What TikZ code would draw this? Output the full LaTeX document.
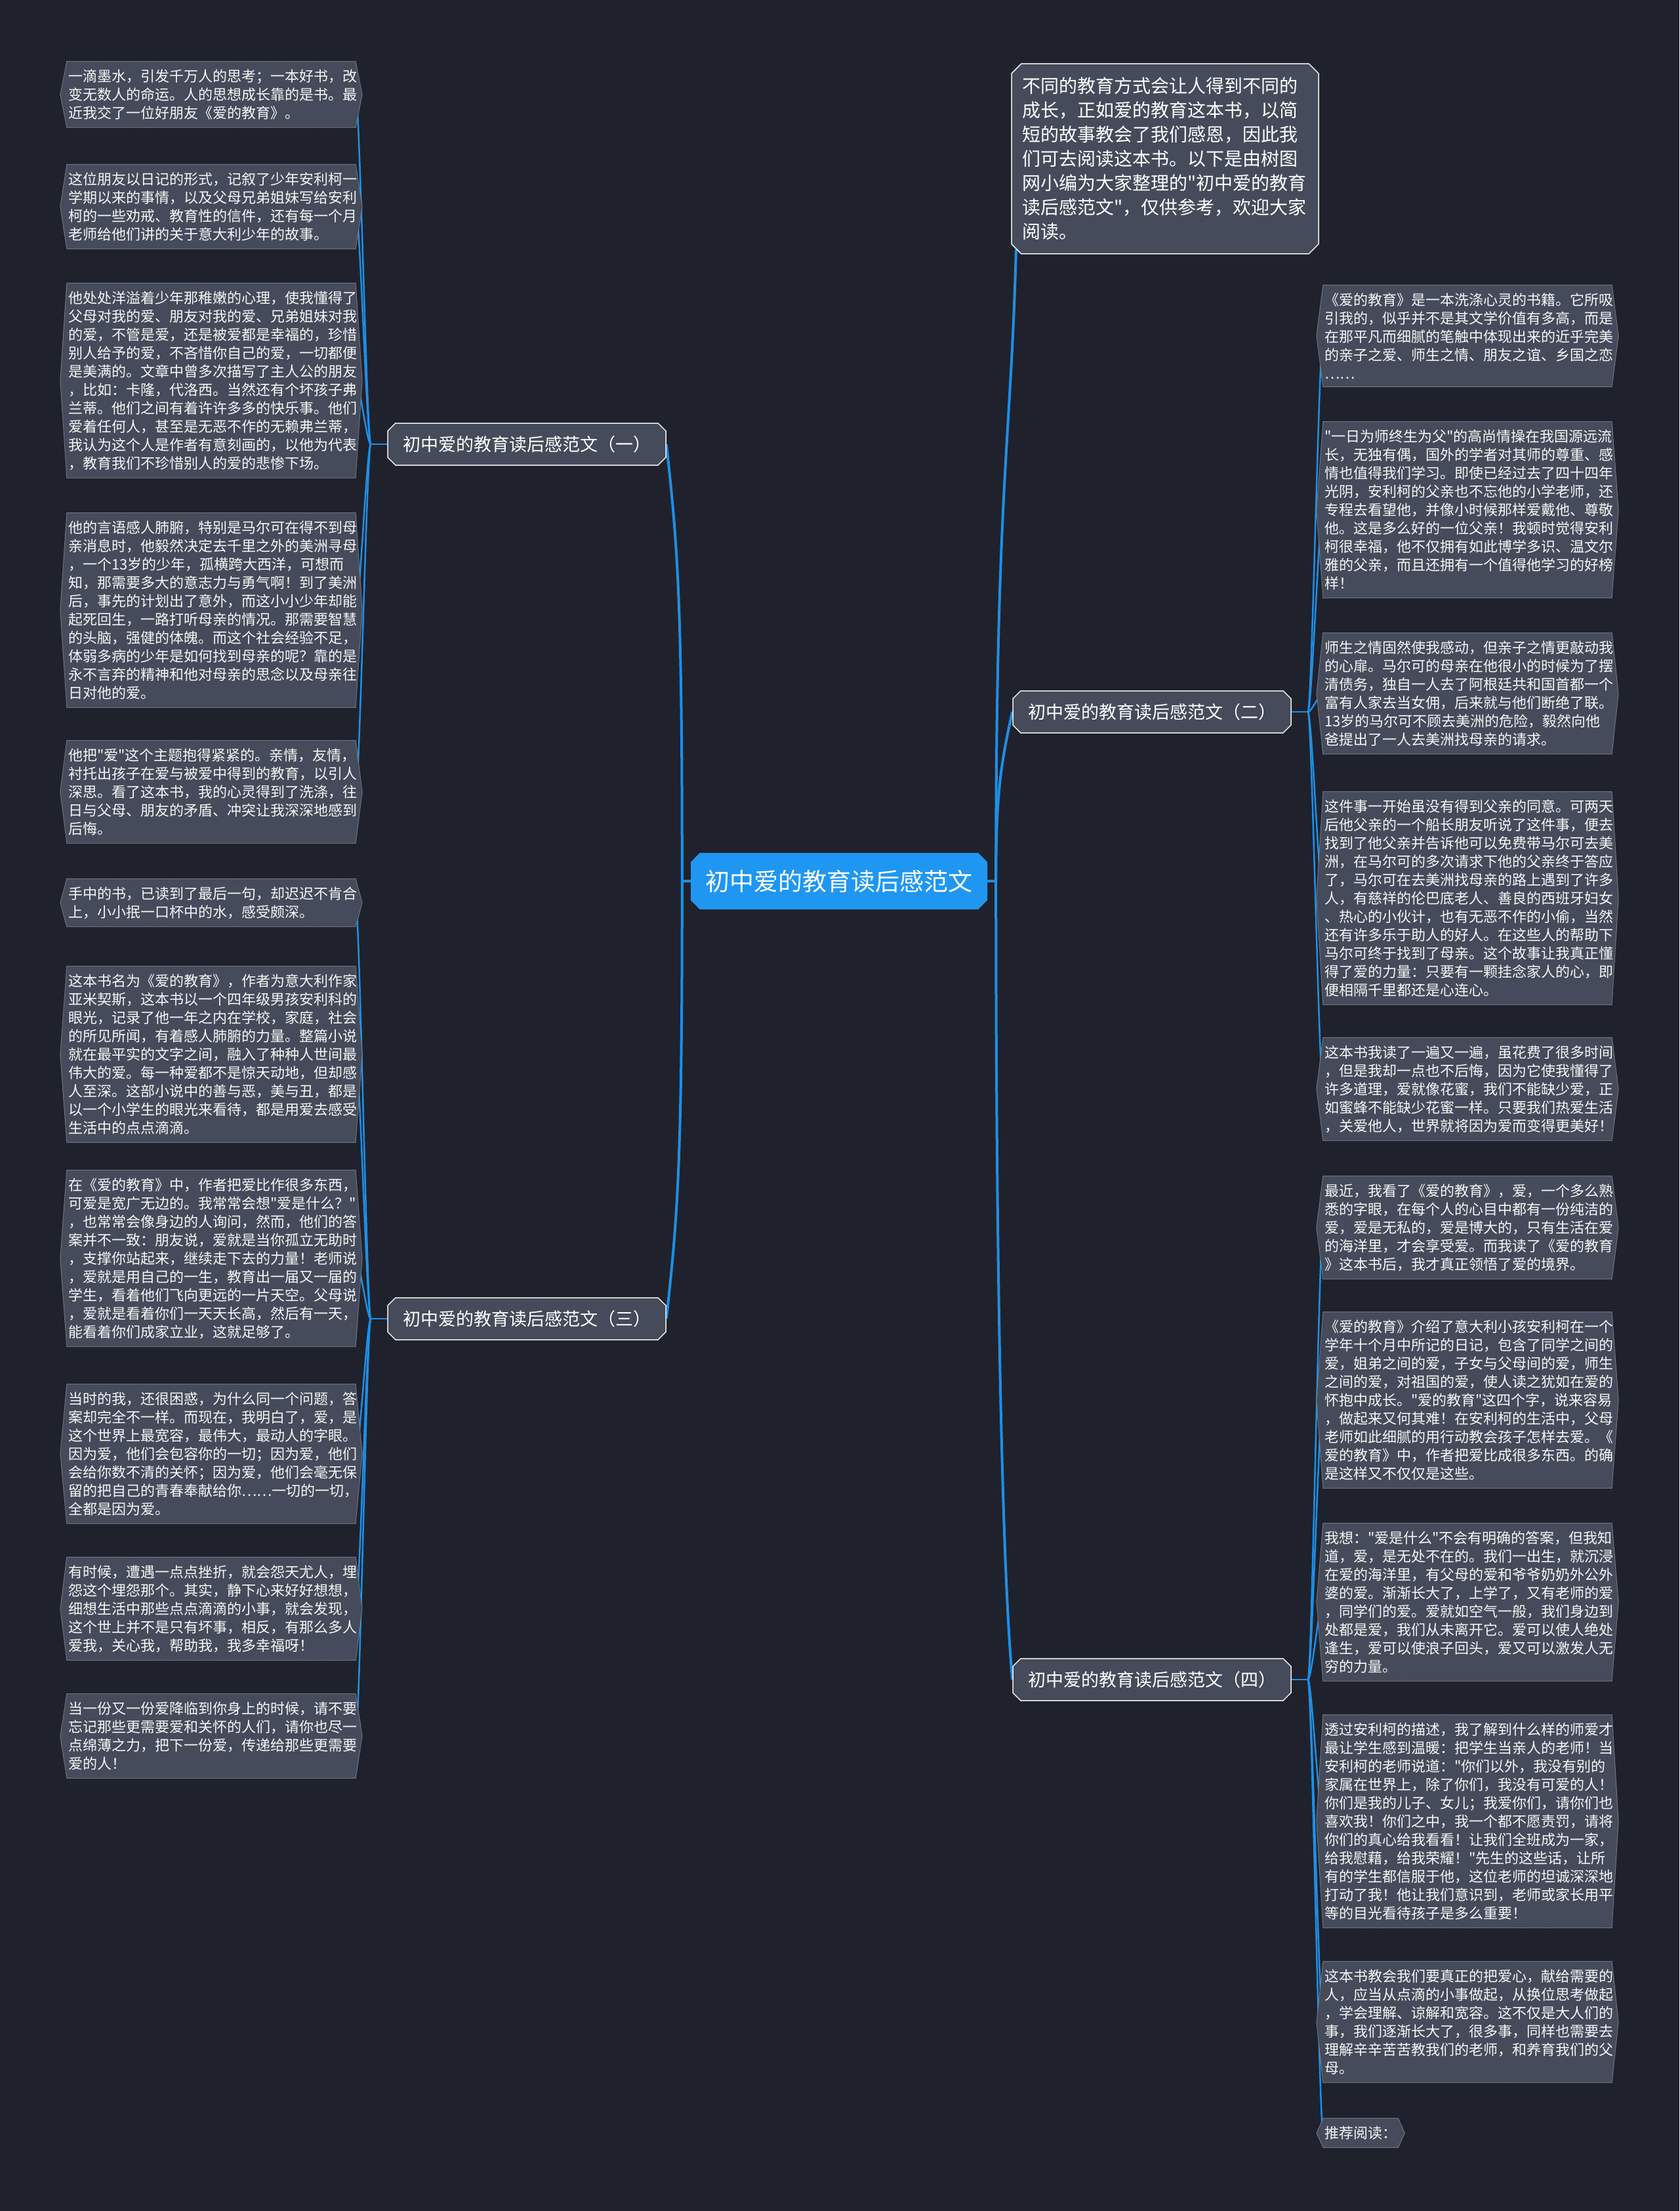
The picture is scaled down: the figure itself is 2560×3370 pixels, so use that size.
\documentclass[tikz,border=0pt]{standalone}
\usepackage{fontspec}
\newfontfamily\cjk{Noto Sans CJK SC}
\usepackage{tikz}
\usetikzlibrary{shapes.misc,backgrounds}
\definecolor{bgc}{HTML}{1F222D}
\definecolor{boxc}{HTML}{454B5A}
\definecolor{rimc}{HTML}{9BA1AC}
\definecolor{linkc}{HTML}{1E8FE6}
\definecolor{hubc}{HTML}{1F97F2}
\tikzset{
  leaf/.style={text width=436pt, inner xsep=2pt, inner ysep=12pt, align=left,
    text=white!93!gray, font=\cjk\fontsize{22}{28}\selectfont},
  leafshape/.style={fill=boxc, draw=rimc, line width=1pt, dash pattern=on 1pt off 1pt},
  branch/.style={chamfered rectangle, chamfered rectangle xsep=9pt, fill=boxc,
    draw=white!88!gray, line width=1.5pt, text=white, inner sep=0pt,
    font=\cjk\fontsize{27}{32}\selectfont, minimum width=424pt, minimum height=64pt},
  hub/.style={chamfered rectangle, chamfered rectangle xsep=11pt, fill=hubc,
    text=white, inner sep=0pt, font=\cjk\fontsize{37}{44}\selectfont,
    minimum width=452pt, minimum height=86pt},
  limb/.style={draw=linkc, line width=4pt},
  twig/.style={draw=linkc, line width=2.5pt},
}

\begin{document}
\begin{tikzpicture}[x=1pt,y=-1pt]
\useasboundingbox (0,0) rectangle (2560,3370);
% centre and branches
\node[hub] (hub) at (1279,1343) {初中爱的教育读后感范文};
\node[branch] (m1) at (803,677) {初中爱的教育读后感范文（一）};
\node[branch] (m3) at (803,2010) {初中爱的教育读后感范文（三）};
\node[branch] (m2) at (1756,1085) {初中爱的教育读后感范文（二）};
\node[branch] (m4) at (1756,2560) {初中爱的教育读后感范文（四）};
\node[branch, minimum width=0pt, minimum height=0pt, chamfered rectangle xsep=12pt,
  text width=436pt, inner xsep=4pt, inner ysep=18pt, align=left,
  font=\cjk\fontsize{28}{37}\selectfont] (intro) at (1776,242)
  {不同的教育方式会让人得到不同的\\成长，正如爱的教育这本书，以简\\短的故事教会了我们感恩，因此我\\们可去阅读这本书。以下是由树图\\网小编为大家整理的"初中爱的教育\\读后感范文"，仅供参考，欢迎大家\\阅读。};

% left leaves
\node[leaf] (l1) at (322,144) {一滴墨水，引发千万人的思考；一本好书，改\\变无数人的命运。人的思想成长靠的是书。最\\近我交了一位好朋友《爱的教育》。};
\node[leaf] (l2) at (322,315) {这位朋友以日记的形式，记叙了少年安利柯一\\学期以来的事情，以及父母兄弟姐妹写给安利\\柯的一些劝戒、教育性的信件，还有每一个月\\老师给他们讲的关于意大利少年的故事。};
\node[leaf] (l3) at (322,580) {他处处洋溢着少年那稚嫩的心理，使我懂得了\\父母对我的爱、朋友对我的爱、兄弟姐妹对我\\的爱，不管是爱，还是被爱都是幸福的，珍惜\\别人给予的爱，不吝惜你自己的爱，一切都便\\是美满的。文章中曾多次描写了主人公的朋友\\，比如：卡隆，代洛西。当然还有个坏孩子弗\\兰蒂。他们之间有着许许多多的快乐事。他们\\爱着任何人，甚至是无恶不作的无赖弗兰蒂，\\我认为这个人是作者有意刻画的，以他为代表\\，教育我们不珍惜别人的爱的悲惨下场。};
\node[leaf] (l4) at (322,930) {他的言语感人肺腑，特别是马尔可在得不到母\\亲消息时，他毅然决定去千里之外的美洲寻母\\，一个13岁的少年，孤横跨大西洋，可想而\\知，那需要多大的意志力与勇气啊！到了美洲\\后，事先的计划出了意外，而这小小少年却能\\起死回生，一路打听母亲的情况。那需要智慧\\的头脑，强健的体魄。而这个社会经验不足，\\体弱多病的少年是如何找到母亲的呢？靠的是\\永不言弃的精神和他对母亲的思念以及母亲往\\日对他的爱。};
\node[leaf] (l5) at (322,1207) {他把"爱"这个主题抱得紧紧的。亲情，友情，\\衬托出孩子在爱与被爱中得到的教育，以引人\\深思。看了这本书，我的心灵得到了洗涤，往\\日与父母、朋友的矛盾、冲突让我深深地感到\\后悔。};
\node[leaf] (l6) at (322,1376) {手中的书，已读到了最后一句，却迟迟不肯合\\上，小小抿一口杯中的水，感受颇深。};
\node[leaf] (l7) at (322,1607) {这本书名为《爱的教育》，作者为意大利作家\\亚米契斯，这本书以一个四年级男孩安利科的\\眼光，记录了他一年之内在学校，家庭，社会\\的所见所闻，有着感人肺腑的力量。整篇小说\\就在最平实的文字之间，融入了种种人世间最\\伟大的爱。每一种爱都不是惊天动地，但却感\\人至深。这部小说中的善与恶，美与丑，都是\\以一个小学生的眼光来看待，都是用爱去感受\\生活中的点点滴滴。};
\node[leaf] (l8) at (322,1918) {在《爱的教育》中，作者把爱比作很多东西，\\可爱是宽广无边的。我常常会想"爱是什么？"\\，也常常会像身边的人询问，然而，他们的答\\案并不一致：朋友说，爱就是当你孤立无助时\\，支撑你站起来，继续走下去的力量！老师说\\，爱就是用自己的一生，教育出一届又一届的\\学生，看着他们飞向更远的一片天空。父母说\\，爱就是看着你们一天天长高，然后有一天，\\能看着你们成家立业，这就足够了。};
\node[leaf] (l9) at (322,2216) {当时的我，还很困惑，为什么同一个问题，答\\案却完全不一样。而现在，我明白了，爱，是\\这个世界上最宽容，最伟大，最动人的字眼。\\因为爱，他们会包容你的一切；因为爱，他们\\会给你数不清的关怀；因为爱，他们会毫无保\\留的把自己的青春奉献给你……一切的一切，\\全都是因为爱。};
\node[leaf] (l10) at (322,2452) {有时候，遭遇一点点挫折，就会怨天尤人，埋\\怨这个埋怨那个。其实，静下心来好好想想，\\细想生活中那些点点滴滴的小事，就会发现，\\这个世上并不是只有坏事，相反，有那么多人\\爱我，关心我，帮助我，我多幸福呀！};
\node[leaf] (l11) at (322,2646) {当一份又一份爱降临到你身上的时候，请不要\\忘记那些更需要爱和关怀的人们，请你也尽一\\点绵薄之力，把下一份爱，传递给那些更需要\\爱的人！};

% right leaves
\node[leaf] (r1) at (2237,512) {《爱的教育》是一本洗涤心灵的书籍。它所吸\\引我的，似乎并不是其文学价值有多高，而是\\在那平凡而细腻的笔触中体现出来的近乎完美\\的亲子之爱、师生之情、朋友之谊、乡国之恋\\……};
\node[leaf] (r2) at (2237,777) {"一日为师终生为父"的高尚情操在我国源远流\\长，无独有偶，国外的学者对其师的尊重、感\\情也值得我们学习。即使已经过去了四十四年\\光阴，安利柯的父亲也不忘他的小学老师，还\\专程去看望他，并像小时候那样爱戴他、尊敬\\他。这是多么好的一位父亲！我顿时觉得安利\\柯很幸福，他不仅拥有如此博学多识、温文尔\\雅的父亲，而且还拥有一个值得他学习的好榜\\样！};
\node[leaf] (r3) at (2237,1057) {师生之情固然使我感动，但亲子之情更敲动我\\的心扉。马尔可的母亲在他很小的时候为了摆\\清债务，独自一人去了阿根廷共和国首都一个\\富有人家去当女佣，后来就与他们断绝了联。\\13岁的马尔可不顾去美洲的危险，毅然向他\\爸提出了一人去美洲找母亲的请求。};
\node[leaf] (r4) at (2237,1369) {这件事一开始虽没有得到父亲的同意。可两天\\后他父亲的一个船长朋友听说了这件事，便去\\找到了他父亲并告诉他可以免费带马尔可去美\\洲，在马尔可的多次请求下他的父亲终于答应\\了，马尔可在去美洲找母亲的路上遇到了许多\\人，有慈祥的伦巴底老人、善良的西班牙妇女\\、热心的小伙计，也有无恶不作的小偷，当然\\还有许多乐于助人的好人。在这些人的帮助下\\马尔可终于找到了母亲。这个故事让我真正懂\\得了爱的力量：只要有一颗挂念家人的心，即\\便相隔千里都还是心连心。};
\node[leaf] (r5) at (2237,1660) {这本书我读了一遍又一遍，虽花费了很多时间\\，但是我却一点也不后悔，因为它使我懂得了\\许多道理，爱就像花蜜，我们不能缺少爱，正\\如蜜蜂不能缺少花蜜一样。只要我们热爱生活\\，关爱他人，世界就将因为爱而变得更美好！};
\node[leaf] (r6) at (2237,1871) {最近，我看了《爱的教育》，爱，一个多么熟\\悉的字眼，在每个人的心目中都有一份纯洁的\\爱，爱是无私的，爱是博大的，只有生活在爱\\的海洋里，才会享受爱。而我读了《爱的教育\\》这本书后，我才真正领悟了爱的境界。};
\node[leaf] (r7) at (2237,2134) {《爱的教育》介绍了意大利小孩安利柯在一个\\学年十个月中所记的日记，包含了同学之间的\\爱，姐弟之间的爱，子女与父母间的爱，师生\\之间的爱，对祖国的爱，使人读之犹如在爱的\\怀抱中成长。"爱的教育"这四个字，说来容易\\，做起来又何其难！在安利柯的生活中，父母\\老师如此细腻的用行动教会孩子怎样去爱。《\\爱的教育》中，作者把爱比成很多东西。的确\\是这样又不仅仅是这些。};
\node[leaf] (r8) at (2237,2442) {我想："爱是什么"不会有明确的答案，但我知\\道，爱，是无处不在的。我们一出生，就沉浸\\在爱的海洋里，有父母的爱和爷爷奶奶外公外\\婆的爱。渐渐长大了，上学了，又有老师的爱\\，同学们的爱。爱就如空气一般，我们身边到\\处都是爱，我们从未离开它。爱可以使人绝处\\逢生，爱可以使浪子回头，爱又可以激发人无\\穷的力量。};
\node[leaf] (r9) at (2237,2776) {透过安利柯的描述，我了解到什么样的师爱才\\最让学生感到温暖：把学生当亲人的老师！当\\安利柯的老师说道："你们以外，我没有别的\\家属在世界上，除了你们，我没有可爱的人！\\你们是我的儿子、女儿；我爱你们，请你们也\\喜欢我！你们之中，我一个都不愿责罚，请将\\你们的真心给我看看！让我们全班成为一家，\\给我慰藉，给我荣耀！"先生的这些话，让所\\有的学生都信服于他，这位老师的坦诚深深地\\打动了我！他让我们意识到，老师或家长用平\\等的目光看待孩子是多么重要！};
\node[leaf] (r10) at (2237,3082) {这本书教会我们要真正的把爱心，献给需要的\\人，应当从点滴的小事做起，从换位思考做起\\，学会理解、谅解和宽容。这不仅是大人们的\\事，我们逐渐长大了，很多事，同样也需要去\\理解辛辛苦苦教我们的老师，和养育我们的父\\母。};
\node[leaf, text width=110pt, anchor=west] (rec) at (2017,3251) {推荐阅读：};

\begin{scope}[on background layer]
  \fill[bgc] (0,0) rectangle (2560,3370);
  % centre to branches
  \draw[limb] (hub.west) -- ++(-13,0) coordinate (hl);
  \draw[limb] (hub.east) -- ++(13,0) coordinate (hr);
  \draw[limb] (hl) .. controls +(0,-420) and +(18,160) .. (m1.east);
  \draw[limb] (hl) .. controls +(0,420) and +(18,-160) .. (m3.east);
  \draw[limb] (hr) .. controls +(0,-600) and +(-8,300) .. (intro.south west);
  \draw[limb] (hr) .. controls +(0,-130) and +(-18,80) .. (m2.west);
  \draw[limb] (hr) .. controls +(0,500) and +(-18,-200) .. (m4.west);
  % branches to leaves
  \draw[twig] (m1.west) -- ++(-25,0) coordinate (s1);
  \draw[twig] (m3.west) -- ++(-25,0) coordinate (s3);
  \draw[twig] (m2.east) -- ++(25,0) coordinate (s2);
  \draw[twig] (m4.east) -- ++(25,0) coordinate (s4);
  \foreach \n in {l1,l2,l3,l4,l5}
    \draw[twig] (s1) .. controls +(-6,0) and +(6,0) .. (\n.east);
  \foreach \n in {l6,l7,l8,l9,l10,l11}
    \draw[twig] (s3) .. controls +(-6,0) and +(6,0) .. (\n.east);
  \foreach \n in {r1,r2,r3,r4,r5}
    \draw[twig] (s2) .. controls +(6,0) and +(-6,0) .. (\n.west);
  \foreach \n in {r6,r7,r8,r9,r10,rec}
    \draw[twig] (s4) .. controls +(6,0) and +(-6,0) .. (\n.west);
  % leaf outlines with pointed sides
  \foreach \n in {l1,l2,l3,l4,l5,l6,l7,l8,l9,l10,l11,r1,r2,r3,r4,r5,r6,r7,r8,r9,r10,rec}
    \filldraw[leafshape] (\n.north west) -- (\n.north east) -- ([xshift=10pt]\n.east)
      -- (\n.south east) -- (\n.south west) -- ([xshift=-10pt]\n.west) -- cycle;
\end{scope}
\end{tikzpicture}
\end{document}
